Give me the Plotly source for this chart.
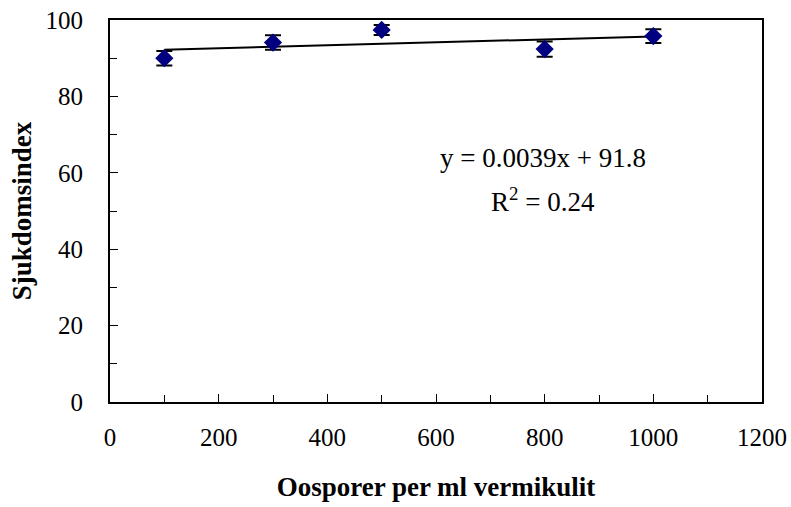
import numpy as np
import plotly.graph_objects as go

# Oospore dose (per ml vermiculite) and resulting disease index
oospores = [100, 300, 500, 800, 1000]
disease_index = [90.0, 94.1, 97.4, 92.4, 95.8]
error = [1.9, 1.9, 1.3, 2.0, 1.8]

# Linear trendline as stated in the equation label
slope = 0.0039
intercept = 91.8
r_squared = 0.24

x_ticks = [0, 200, 400, 600, 800, 1000, 1200]
y_ticks = [0, 20, 40, 60, 80, 100]

FONT = "Liberation Serif, Times New Roman, serif"

trend_x = np.array([min(oospores), max(oospores)])
trend_y = slope * trend_x + intercept

fig = go.Figure()
fig.add_trace(go.Scatter(
    x=trend_x, y=trend_y, mode="lines",
    line=dict(color="black", width=2),
    showlegend=False, hoverinfo="skip",
))
fig.add_trace(go.Scatter(
    x=oospores, y=disease_index, mode="markers",
    marker=dict(symbol="diamond", size=14, color="#000080"),
    error_y=dict(type="data", array=error, visible=True,
                 color="black", thickness=2, width=8),
    showlegend=False,
))

# Regression equation and coefficient of determination
fig.add_annotation(
    x=0.664, y=0.638, xref="paper", yref="paper",
    text=f"y = {slope}x + {intercept}",
    showarrow=False, xanchor="center", yanchor="middle",
    font=dict(family=FONT, size=27, color="black"),
)
fig.add_annotation(
    x=0.664, y=0.528, xref="paper", yref="paper",
    text=f"R<sup>2</sup> = {r_squared}",
    showarrow=False, xanchor="center", yanchor="middle",
    font=dict(family=FONT, size=27, color="black"),
)

axis_common = dict(
    showgrid=False, zeroline=False, automargin=False,
    showline=True, linecolor="black", linewidth=2, mirror=True,
    ticks="inside", ticklen=8, tickwidth=1, tickcolor="black",
    tickfont=dict(family=FONT, size=25, color="black"),
)

fig.update_xaxes(
    range=[0, 1200], tickvals=x_ticks,
    minor=dict(ticks="inside", ticklen=7, dtick=100, tick0=0, tickcolor="black"),
    ticklabelstandoff=12,
    title=dict(text="<b>Oosporer per ml vermikulit</b>", standoff=27,
               font=dict(family=FONT, size=27, color="black")),
    **axis_common,
)
fig.update_yaxes(
    range=[0, 100], tickvals=y_ticks,
    minor=dict(ticks="inside", ticklen=7, dtick=10, tick0=0, tickcolor="black"),
    ticklabelstandoff=20,
    title=dict(text="<b>Sjukdomsindex</b>", standoff=6,
               font=dict(family=FONT, size=27, color="black")),
    **axis_common,
)

fig.update_layout(
    width=791, height=507,
    margin=dict(l=110, r=29, t=20, b=105),
    plot_bgcolor="white", paper_bgcolor="white",
    font=dict(family=FONT, color="black"),
)

fig.write_html("out.html")
